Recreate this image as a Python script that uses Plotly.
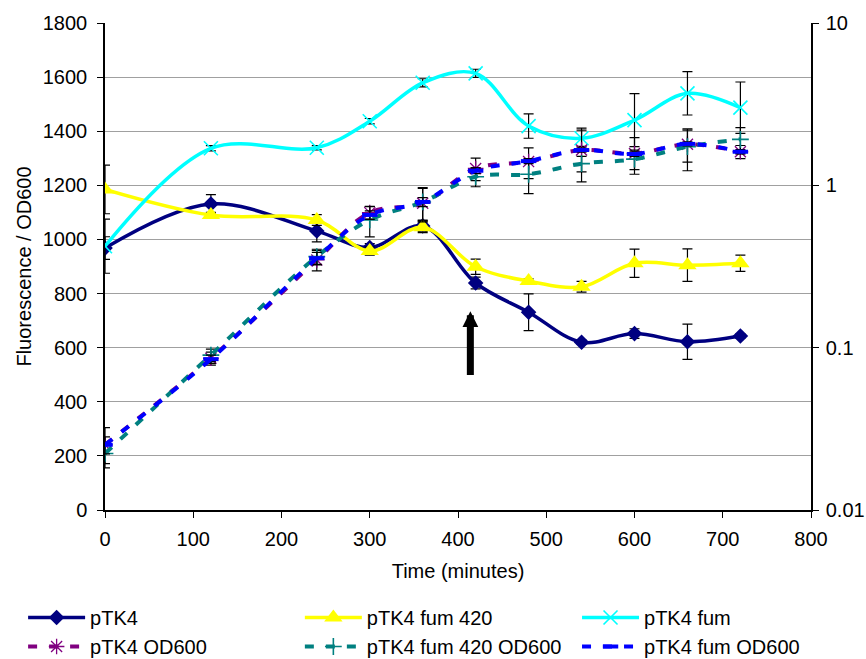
import plotly.graph_objects as go

time = [0, 120, 240, 300, 360, 420, 480, 540, 600, 660, 720]

ptk4 = [968, 1131, 1031, 970, 1050, 839, 731, 620, 652, 622, 643]
ptk4_err = [42, 35, 40, 15, 20, 22, 68, 8, 18, 65, 8]
fum420 = [1185, 1090, 1072, 957, 1045, 899, 846, 825, 912, 905, 912]
fum420_err = [90, 10, 20, 15, 20, 28, 8, 20, 52, 60, 30]
fum = [975, 1337, 1339, 1437, 1579, 1614, 1419, 1374, 1441, 1540, 1487]
fum_err = [100, 10, 8, 10, 15, 15, 45, 30, 98, 80, 95]

od_ptk4 = [0.0252, 0.086, 0.347, 0.679, 0.776, 1.27, 1.40, 1.65, 1.57, 1.79, 1.61]
od_ptk4_err = [0.007, 0.008, 0.05, 0.06, 0.18, 0.2, 0.3, 0.6, 0.4, 0.4, 0.15]
od_fum420 = [0.0223, 0.090, 0.364, 0.612, 0.79, 1.13, 1.17, 1.36, 1.45, 1.73, 1.92]
od_fum420_err = [0.003, 0.008, 0.04, 0.13, 0.18, 0.15, 0.28, 0.15, 0.2, 0.5, 0.35]
od_fum = [0.0252, 0.085, 0.356, 0.657, 0.79, 1.23, 1.41, 1.65, 1.56, 1.80, 1.61]
od_fum_err = [0.003, 0.005, 0.03, 0.04, 0.05, 0.05, 0.05, 0.05, 0.05, 0.05, 0.05]

left_ticks = list(range(0, 1801, 200))
right_tickvals = [0.01, 0.1, 1, 10]
right_ticktext = ["0.01", "0.1", "1", "10"]
x_ticks = list(range(0, 801, 100))

FONT = "Liberation Sans, Arial, sans-serif"
FS = 20


def eb(arr):
    return dict(type="data", array=arr, color="black", thickness=1.2, width=5)


fig = go.Figure()

# OD600 series (right log axis)
fig.add_trace(go.Scatter(
    x=time, y=od_ptk4, name="pTK4 OD600", yaxis="y2", legend="legend",
    mode="lines+markers", line=dict(color="#800080", width=4, dash="9px,12px", shape="spline"),
    marker=dict(symbol="asterisk-open", size=13, color="#800080", line=dict(width=1.3, color="#800080")),
    error_y=eb(od_ptk4_err)))
fig.add_trace(go.Scatter(
    x=time, y=od_fum420, name="pTK4 fum 420 OD600", yaxis="y2", legend="legend2",
    mode="lines+markers", line=dict(color="#008080", width=4, dash="9px,12px", shape="spline"),
    marker=dict(symbol="cross-thin-open", size=12, color="#008080", line=dict(width=1.6, color="#008080")),
    error_y=eb(od_fum420_err)))
fig.add_trace(go.Scatter(
    x=time, y=od_fum, name="pTK4 fum OD600", yaxis="y2", legend="legend3",
    mode="lines+markers", line=dict(color="#0000FF", width=4, dash="9px,12px", shape="spline"),
    marker=dict(symbol="line-ew-open", size=11, color="#0000FF", line=dict(width=4, color="#0000FF")),
    error_y=eb(od_fum_err)))

# Fluorescence series (left axis)
fig.add_trace(go.Scatter(
    x=time, y=ptk4, name="pTK4", legend="legend",
    mode="lines+markers", line=dict(color="#000080", width=3.5, shape="spline"),
    marker=dict(symbol="diamond", size=12, color="#000080"),
    error_y=eb(ptk4_err)))
fig.add_trace(go.Scatter(
    x=time, y=fum420, name="pTK4 fum 420", legend="legend2",
    mode="lines+markers", line=dict(color="#FFFF00", width=3.5, shape="spline"),
    marker=dict(symbol="triangle-up", size=16, color="#FFFF00"),
    error_y=eb(fum420_err)))
fig.add_trace(go.Scatter(
    x=time, y=fum, name="pTK4 fum", legend="legend3",
    mode="lines+markers", line=dict(color="#00FFFF", width=3.5, shape="spline"),
    marker=dict(symbol="x-thin-open", size=14, color="#00FFFF", line=dict(width=1.6, color="#00FFFF")),
    error_y=eb(fum_err)))

leg_common = dict(orientation="v", font=dict(family=FONT, size=FS, color="black"),
                  itemwidth=57, bgcolor="rgba(0,0,0,0)", xanchor="left", yanchor="top",
                  traceorder="reversed", tracegroupgap=0)

fig.update_layout(
    width=866, height=659,
    margin=dict(l=105, r=55, t=23, b=149, autoexpand=False),
    paper_bgcolor="white", plot_bgcolor="white",
    font=dict(family=FONT, size=FS, color="black"),
    showlegend=True,
    legend=dict(x=-0.116, y=-0.1807, **leg_common),
    legend2=dict(x=0.276, y=-0.1807, **leg_common),
    legend3=dict(x=0.6686, y=-0.1807, **leg_common),
    xaxis=dict(range=[0, 800], tickvals=x_ticks, showgrid=False, zeroline=False,
               showline=True, linecolor="black", linewidth=1.5,
               ticks="outside", ticklen=6, tickcolor="black", ticklabelstandoff=4,
               title=dict(text="Time (minutes)", standoff=15, font=dict(size=FS))),
    yaxis=dict(range=[0, 1800], tickvals=left_ticks, showgrid=True, gridcolor="#a0a0a0", gridwidth=1,
               zeroline=False, showline=True, linecolor="black", linewidth=1.5,
               ticks="outside", ticklen=6, tickcolor="black", ticklabelstandoff=6,
               title=dict(text="Fluorescence / OD600", standoff=6, font=dict(size=FS))),
    yaxis2=dict(type="log", range=[-2, 1], overlaying="y", side="right", anchor="x",
                tickvals=right_tickvals, ticktext=right_ticktext, showgrid=False, zeroline=False,
                showline=True, linecolor="black", linewidth=1.5,
                ticks="outside", ticklen=6, tickcolor="black", ticklabelstandoff=3),
)

fig.add_annotation(x=414, y=735, ax=414, ay=493, xref="x", yref="y", axref="x", ayref="y",
                   text="", showarrow=True, arrowhead=2, arrowsize=0.45, arrowwidth=7,
                   arrowcolor="black")

fig.write_html("out.html")
